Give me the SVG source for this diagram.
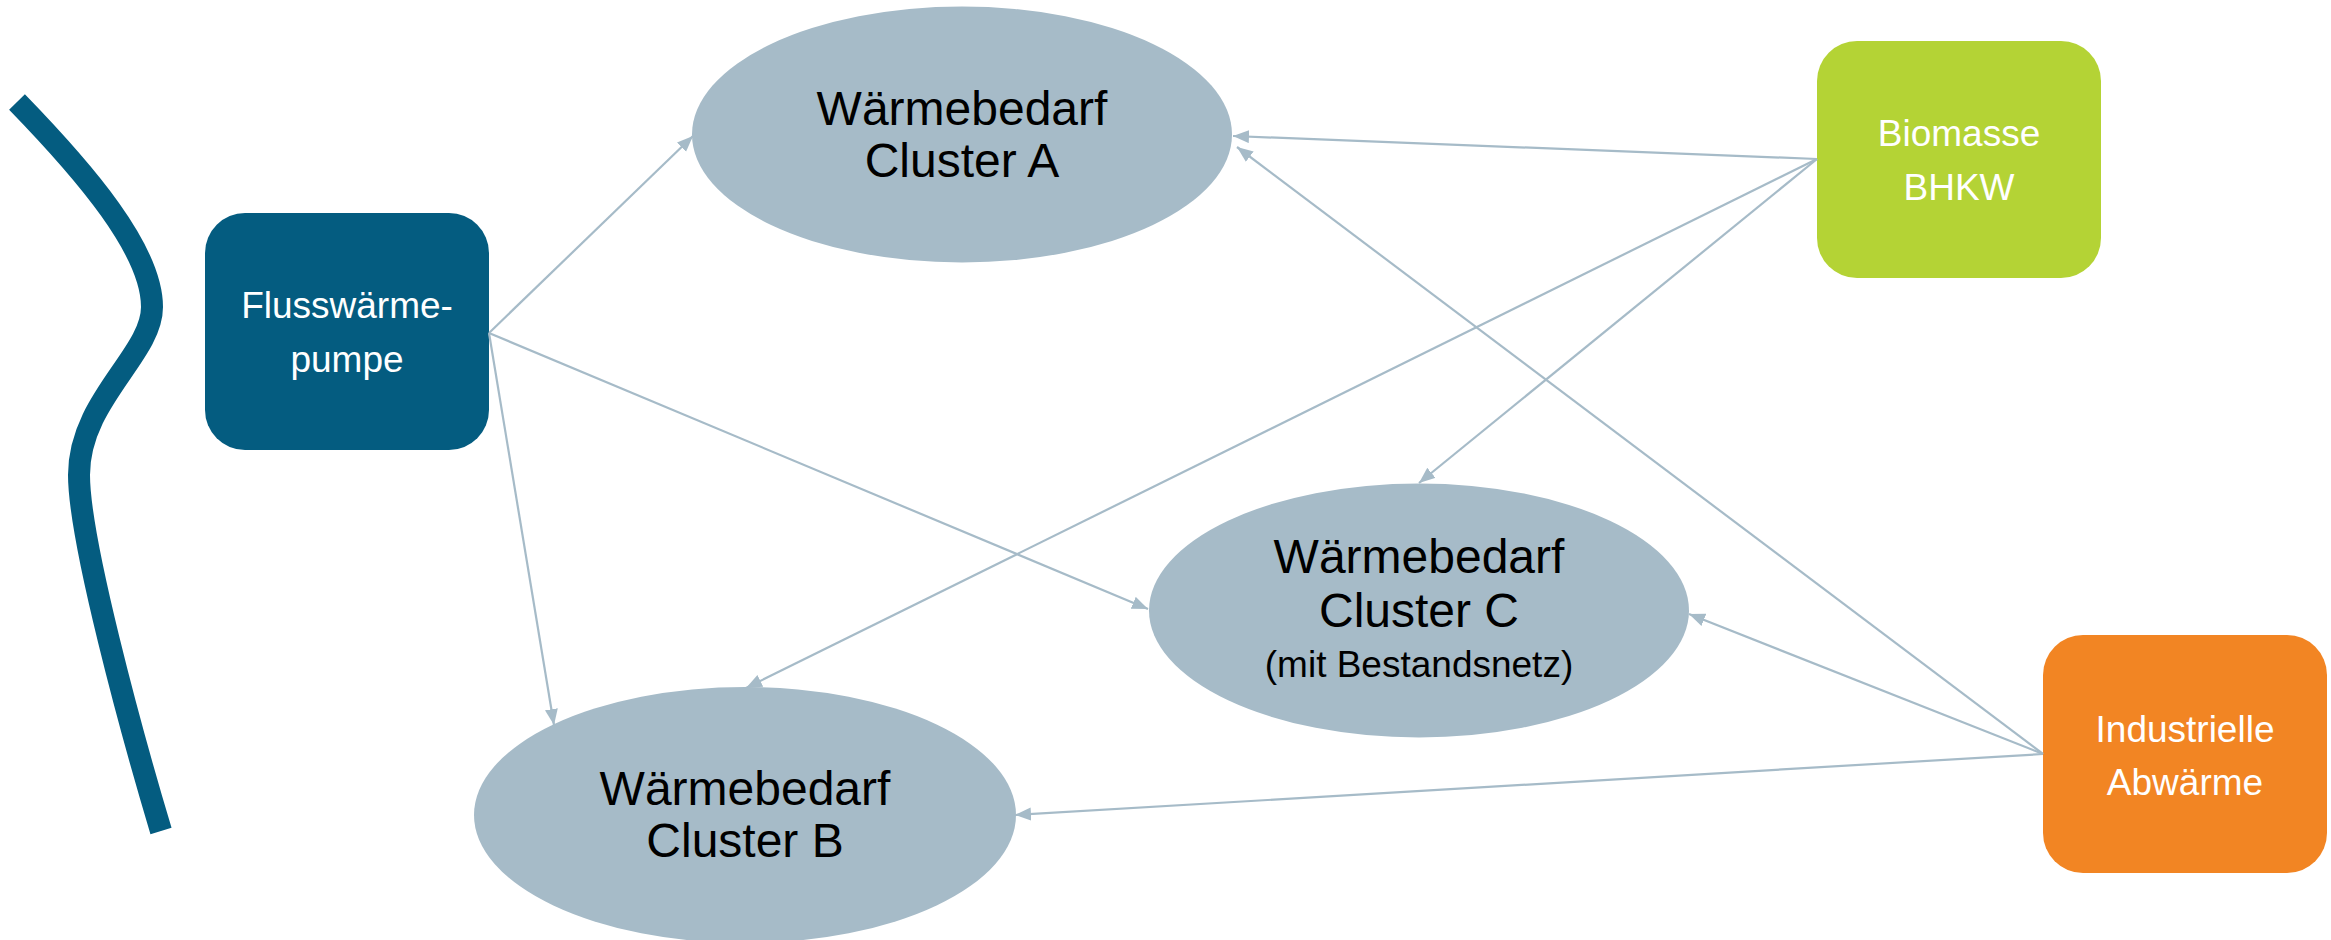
<svg xmlns="http://www.w3.org/2000/svg" width="2331" height="940" viewBox="0 0 2331 940">
<style>
.ell{fill:#A6BBC8}
.et{font-family:"Liberation Sans",Arial,sans-serif;font-size:48px;fill:#000;text-anchor:middle}
.es{font-size:37px}
.bt{font-family:"Liberation Sans",Arial,sans-serif;font-size:37px;fill:#fff;text-anchor:middle}
.con{stroke:#A6BBC8;stroke-width:2.2;fill:none;marker-end:url(#ah)}
</style>
<defs>
<marker id="ah" markerUnits="userSpaceOnUse" markerWidth="17" markerHeight="14" refX="16" refY="6.5" orient="auto">
<path d="M0,0 L16,6.5 L0,13 Z" fill="#A6BBC8"/>
</marker>
</defs>
<rect width="2331" height="940" fill="#fff"/>
<path id="river" d="M17,102 C85,172 152,250 152,307 C152,355 79,400 79,475 C79,540 131,731 161,831" fill="none" stroke="#045C80" stroke-width="22"/>
<g id="flusswaerme">
<rect x="205" y="213" width="284" height="237" rx="40" fill="#045C80"/>
<text class="bt" x="347" y="318">Flusswärme-</text>
<text class="bt" x="347" y="372">pumpe</text>
</g>
<g id="biomasse">
<rect x="1817" y="41" width="284" height="237" rx="40" fill="#B4D335"/>
<text class="bt" x="1959" y="146">Biomasse</text>
<text class="bt" x="1959" y="200">BHKW</text>
</g>
<g id="industrie">
<rect x="2043" y="635" width="284" height="238" rx="40" fill="#F28523"/>
<text class="bt" x="2185" y="742">Industrielle</text>
<text class="bt" x="2185" y="795">Abwärme</text>
</g>
<g id="clusterA">
<ellipse class="ell" cx="962" cy="134.5" rx="270" ry="128"/>
<text class="et" x="962" y="125">Wärmebedarf</text>
<text class="et" x="962" y="177">Cluster A</text>
</g>
<g id="clusterB">
<ellipse class="ell" cx="745" cy="815" rx="271" ry="128"/>
<text class="et" x="745" y="805">Wärmebedarf</text>
<text class="et" x="745" y="857">Cluster B</text>
</g>
<g id="clusterC">
<ellipse class="ell" cx="1419" cy="610.5" rx="270" ry="127"/>
<text class="et" x="1419" y="573">Wärmebedarf</text>
<text class="et" x="1419" y="627">Cluster C</text>
<text class="et es" x="1419" y="677">(mit Bestandsnetz)</text>
</g>
<g id="connectors">
<line class="con" x1="489" y1="333" x2="693" y2="136"/>
<line class="con" x1="489" y1="333" x2="1148" y2="609"/>
<line class="con" x1="489" y1="333" x2="554" y2="725"/>
<line class="con" x1="1817" y1="159" x2="1233" y2="136"/>
<line class="con" x1="1817" y1="159" x2="1419" y2="483"/>
<line class="con" x1="1817" y1="159" x2="746" y2="688"/>
<line class="con" x1="2043" y1="754" x2="1237" y2="147"/>
<line class="con" x1="2043" y1="754" x2="1689" y2="614"/>
<line class="con" x1="2043" y1="754" x2="1015" y2="815"/>
</g>
</svg>
